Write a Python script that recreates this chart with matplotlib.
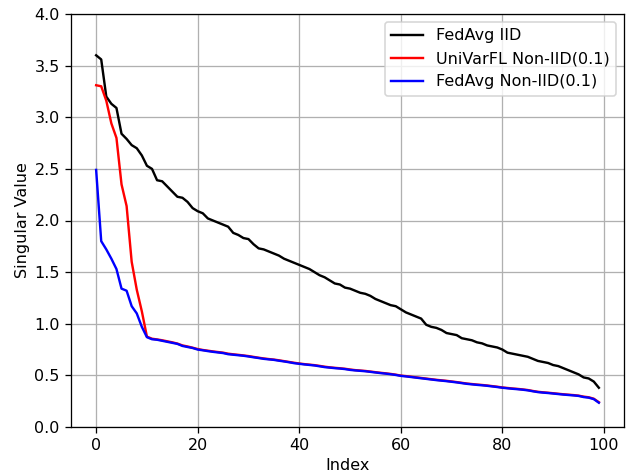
import matplotlib
matplotlib.use("Agg")
import matplotlib.pyplot as plt
import numpy as np

fedavg_iid = [3.60, 3.56, 3.20, 3.13, 3.09, 2.84, 2.79, 2.73, 2.70, 2.63,
              2.53, 2.50, 2.39, 2.38, 2.33, 2.28, 2.23, 2.22, 2.18, 2.12,
              2.09, 2.07, 2.02, 2.00, 1.98, 1.96, 1.94, 1.88, 1.86, 1.83,
              1.82, 1.77, 1.73, 1.72, 1.70, 1.68, 1.66, 1.63, 1.61, 1.59,
              1.57, 1.55, 1.53, 1.50, 1.47, 1.45, 1.42, 1.39, 1.38, 1.35,
              1.34, 1.32, 1.30, 1.29, 1.27, 1.24, 1.22, 1.20, 1.18, 1.17,
              1.14, 1.11, 1.09, 1.07, 1.05, 0.99, 0.97, 0.96, 0.94, 0.91,
              0.90, 0.89, 0.86, 0.85, 0.84, 0.82, 0.81, 0.79, 0.78, 0.77,
              0.75, 0.72, 0.71, 0.70, 0.69, 0.68, 0.66, 0.64, 0.63, 0.62,
              0.60, 0.59, 0.57, 0.55, 0.53, 0.51, 0.48, 0.47, 0.44, 0.38]

fedavg_noniid = [2.49, 1.80, 1.72, 1.63, 1.53, 1.34, 1.32, 1.17, 1.10, 0.97,
                 0.87, 0.850, 0.845, 0.835, 0.825, 0.815, 0.805, 0.785, 0.775, 0.765,
                 0.750, 0.743, 0.735, 0.728, 0.722, 0.716, 0.705, 0.700, 0.695, 0.690,
                 0.683, 0.675, 0.668, 0.660, 0.655, 0.650, 0.642, 0.635, 0.627, 0.618,
                 0.612, 0.606, 0.601, 0.596, 0.588, 0.580, 0.575, 0.570, 0.566, 0.561,
                 0.553, 0.548, 0.544, 0.540, 0.534, 0.528, 0.522, 0.517, 0.511, 0.504,
                 0.495, 0.490, 0.484, 0.478, 0.472, 0.466, 0.460, 0.454, 0.449, 0.444,
                 0.438, 0.432, 0.425, 0.418, 0.413, 0.408, 0.404, 0.399, 0.393, 0.387,
                 0.380, 0.375, 0.370, 0.366, 0.361, 0.355, 0.346, 0.338, 0.333, 0.329,
                 0.324, 0.319, 0.314, 0.310, 0.306, 0.301, 0.290, 0.284, 0.270, 0.235]

univarfl_noniid = [3.31, 3.30, 3.16, 2.94, 2.80, 2.35, 2.14, 1.60, 1.33, 1.12,
                   0.875, 0.855, 0.848, 0.840, 0.830, 0.820, 0.808, 0.790, 0.780, 0.768,
                   0.755, 0.746, 0.739, 0.732, 0.726, 0.720, 0.710, 0.704, 0.699, 0.693,
                   0.687, 0.679, 0.671, 0.664, 0.658, 0.653, 0.646, 0.638, 0.630, 0.622,
                   0.615, 0.609, 0.604, 0.599, 0.592, 0.584, 0.578, 0.573, 0.569, 0.564,
                   0.557, 0.551, 0.547, 0.543, 0.537, 0.531, 0.525, 0.520, 0.514, 0.507,
                   0.498, 0.493, 0.487, 0.481, 0.475, 0.469, 0.463, 0.457, 0.452, 0.447,
                   0.441, 0.435, 0.428, 0.421, 0.416, 0.411, 0.407, 0.402, 0.396, 0.390,
                   0.383, 0.378, 0.373, 0.369, 0.364, 0.358, 0.349, 0.341, 0.336, 0.332,
                   0.327, 0.322, 0.317, 0.313, 0.309, 0.304, 0.294, 0.288, 0.274, 0.240]

labels = ["FedAvg IID", "UniVarFL Non-IID(0.1)", "FedAvg Non-IID(0.1)"]

DPI = 115
fig = plt.figure(figsize=(629 / DPI, 476 / DPI), dpi=DPI)
ax = fig.add_axes([71/629, 1 - 427/476, (624 - 71)/629, (427 - 14)/476])
idx = np.arange(len(fedavg_iid))
ax.plot(idx, fedavg_iid, color="black", lw=1.5, label=labels[0])
ax.plot(idx, univarfl_noniid, color="red", lw=1.5, label=labels[1])
ax.plot(idx, fedavg_noniid, color="blue", lw=1.5, label=labels[2])
ax.set_ylim(0, 4.0)
ax.set_yticks(np.arange(0, 4.01, 0.5))
ax.set_xticks([0, 20, 40, 60, 80, 100])
ax.grid(True, color="#b0b0b0", lw=0.8)
ax.set_xlabel("Index", labelpad=3)
ax.set_ylabel("Singular Value", labelpad=3)
ax.legend(loc="upper right")
fig.savefig("out.png", dpi=DPI)
